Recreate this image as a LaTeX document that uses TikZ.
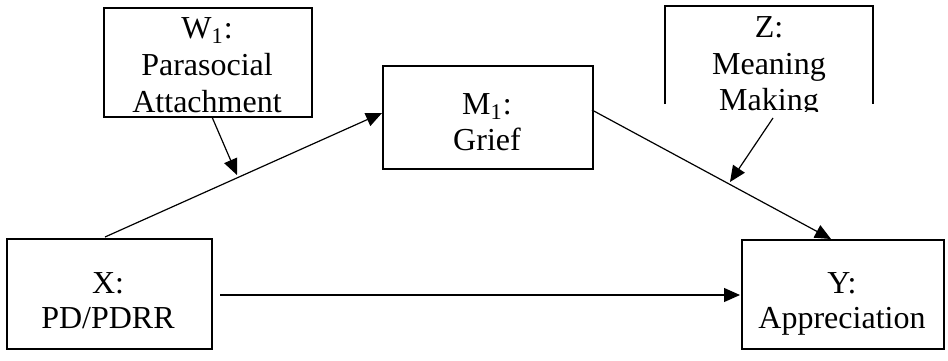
\documentclass[tikz,border=0pt]{standalone}
\usepackage{fontspec}
\setmainfont{Liberation Serif}
\usetikzlibrary{arrows.meta}
\begin{document}
\begin{tikzpicture}[x=0.5pt,y=-0.5pt,
  box/.style={draw,line width=1.2pt,fill=white},
  txt/.style={anchor=base,inner sep=0pt,font=\fontsize{16}{18.5}\selectfont},
  arr/.style={line width=0.6pt,-{Triangle[length=8pt,width=7pt]}},
  ln/.style={line width=0.6pt}]
\useasboundingbox (0,0) rectangle (948,360);
% boxes
\node[box,minimum width=104pt,minimum height=54.5pt,anchor=north west] (W) at (103,7) {};
\node[box,minimum width=105pt,minimum height=51.5pt,anchor=north west] (M) at (382,65) {};
\node[box,minimum width=102.5pt,minimum height=55pt,anchor=north west] (X) at (6,238) {};
\node[box,minimum width=101pt,minimum height=54.5pt,anchor=north west] (Y) at (741,239) {};
% Z box, bottom edge hidden
\coordinate (Ztl) at (665,6);
\coordinate (Ztr) at (873,6);
\coordinate (Zbl) at (665,104);
\coordinate (Zbr) at (873,104);
\draw[line width=1.2pt] (Zbl) -- (Ztl) -- (Ztr) -- (Zbr);
% texts
\node[txt] (w1) at (207,38) {W\textsubscript{1}:};
\node[txt] (w2) at (207,75) {Parasocial};
\node[txt] (w3) at (207,112) {Attachment};
\node[txt] (m1) at (487,114) {M\textsubscript{1}:};
\node[txt] (m2) at (487,150) {Grief};
\node[txt] (z1) at (769,37) {Z:};
\node[txt] (z2) at (769,74) {Meaning};
\begin{scope}
\clip (665,80) rectangle (873,111);
\node[txt] (z3) at (769,110) {Making};
\end{scope}
\node[txt] (x1) at (108,293) {X:};
\node[txt] (x2) at (108,328) {PD/PDRR};
\node[txt] (y1) at (842,293) {Y:};
\node[txt] (y2) at (842,328) {Appreciation};
% connectors
\coordinate (xs) at (105,237);
\coordinate (me) at (382,113);
\draw[arr] (xs) -- (me);
\coordinate (ws) at (212,117);
\coordinate (wt) at (237,175);
\draw[arr] (ws) -- (wt);
\coordinate (ms) at (592,110);
\coordinate (ye) at (831,239);
\draw[arr] (ms) -- (ye);
\coordinate (zs) at (773,118);
\coordinate (zt) at (730,182);
\draw[arr] (zs) -- (zt);
\coordinate (hs) at (220,295);
\coordinate (he) at (740,295);
\draw[arr] (hs) -- (he);
\end{tikzpicture}
\end{document}
